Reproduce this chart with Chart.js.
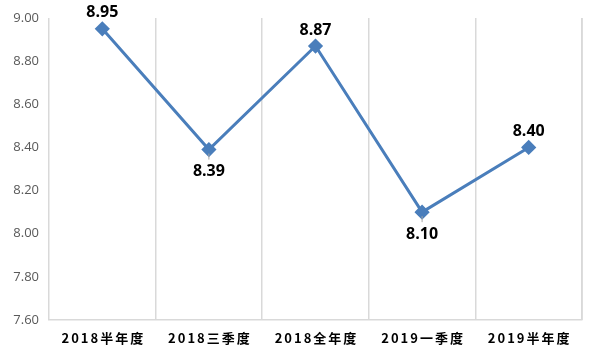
<!DOCTYPE html>
<html><head><meta charset="utf-8">
<script src="https://cdn.jsdelivr.net/npm/chart.js@4/dist/chart.umd.min.js"></script>
<style>html,body{margin:0;padding:0;background:#fff}#wrap{width:600px;height:359px}</style>
</head><body><div id="wrap"><canvas id="c" width="600" height="359"></canvas></div>
<script>
const categories = ['2018半年度','2018三季度','2018全年度','2019一季度','2019半年度'];
const values = [8.95, 8.39, 8.87, 8.10, 8.40];
const labelPos = ['above','below','above','below','above'];
const yTicks = [7.6, 7.8, 8.0, 8.2, 8.4, 8.6, 8.8, 9.0];

const customText = {
  id: 'customText',
  afterDraw(chart) {
    const ctx = chart.ctx;
    const x = chart.scales.x, y = chart.scales.y;
    ctx.save();
    ctx.font = 'bold 13px "Noto Sans CJK SC"';
    ctx.fillStyle = '#000';
    ctx.textAlign = 'center';
    ctx.textBaseline = 'middle';
    try { ctx.letterSpacing = '2px'; } catch(e) {}
    categories.forEach((c, i) => {
      ctx.fillText(c, x.getPixelForValue(i) + 1, 338);
    });
    try { ctx.letterSpacing = '0px'; } catch(e) {}
    ctx.font = 'bold 16px "Open Sans"';
    const meta = chart.getDatasetMeta(0);
    meta.data.forEach((pt, i) => {
      const above = labelPos[i] === 'above';
      if (!above) {
        ctx.strokeStyle = '#a6a6a6';
        ctx.lineWidth = 1;
        ctx.beginPath();
        ctx.moveTo(pt.x, pt.y + 4);
        ctx.lineTo(pt.x, pt.y + 10);
        ctx.stroke();
      }
      ctx.fillStyle = '#000';
      ctx.fillText(values[i].toFixed(2), pt.x, above ? pt.y - 16 : pt.y + 22);
    });
    ctx.restore();
  }
};

new Chart(document.getElementById('c'), {
  type: 'line',
  data: {
    labels: categories,
    datasets: [{
      data: values,
      borderColor: '#4a7ebb',
      backgroundColor: '#4a7ebb',
      borderWidth: 3,
      pointStyle: 'rectRot',
      pointRadius: 5.5,
      pointHoverRadius: 5.5,
      tension: 0,
      fill: false
    }]
  },
  options: {
    responsive: false,
    animation: false,
    events: [],
    layout: { padding: { top: 18, right: 18, left: 0, bottom: 0 } },
    plugins: { legend: { display: false }, tooltip: { enabled: false } },
    scales: {
      x: {
        offset: true,
        grid: { offset: true, color: '#d9d9d9', lineWidth: 1.5, drawTicks: false },
        border: { color: '#d9d9d9', width: 1.5 },
        ticks: { display: false },
        afterFit(s) { s.height = 39; }
      },
      y: {
        min: 7.6, max: 9.0,
        afterBuildTicks(s) { s.ticks = yTicks.map(v => ({ value: v })); },
        grid: { display: false, drawTicks: false },
        border: { display: false },
        ticks: {
          color: '#595959',
          font: { family: '"Open Sans"', size: 13 },
          padding: 10,
          callback: v => Number(v).toFixed(2)
        },
        afterFit(s) { s.width = 49; }
      }
    }
  },
  plugins: [customText, {
    id: 'rightBorder',
    afterDraw(chart) {
      const a = chart.chartArea, ctx = chart.ctx;
      ctx.save();
      ctx.strokeStyle = '#d9d9d9'; ctx.lineWidth = 1.5;
      ctx.beginPath(); ctx.moveTo(a.right, a.top); ctx.lineTo(a.right, a.bottom); ctx.stroke();
      ctx.restore();
    }
  }]
});
</script>
</body></html>
